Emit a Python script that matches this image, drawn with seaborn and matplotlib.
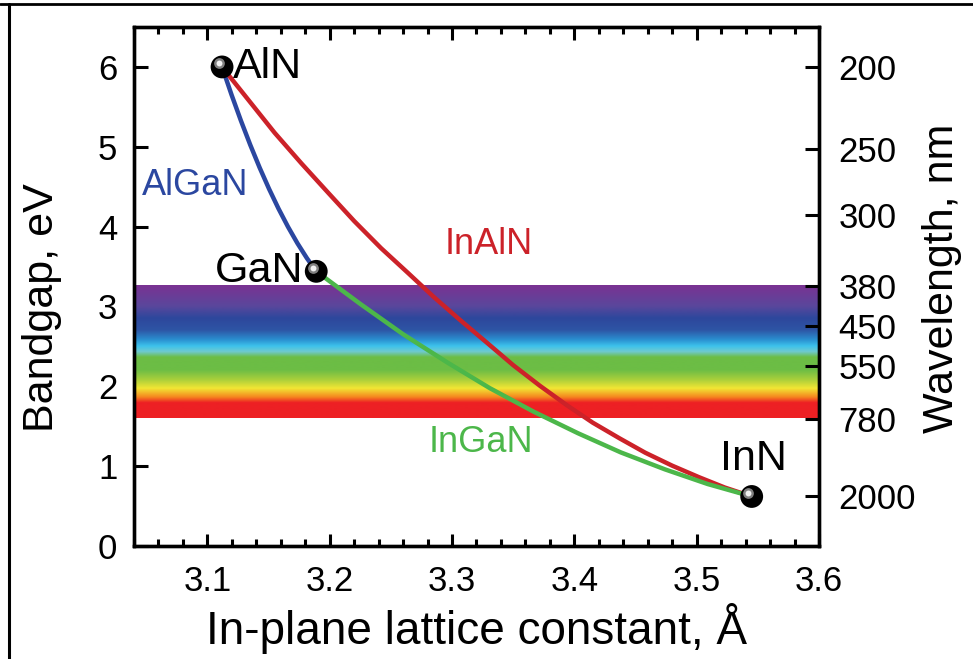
import numpy as np
import pandas as pd
import matplotlib
matplotlib.use("Agg")
import matplotlib.pyplot as plt
import matplotlib.transforms as mtransforms
from matplotlib.colors import LinearSegmentedColormap
from matplotlib.lines import Line2D
from matplotlib.ticker import MultipleLocator, FormatStrFormatter
import seaborn as sns

# binary end points: lattice constant (A) and bandgap (eV)
compounds = ["AlN", "GaN", "InN"]
lattice = [3.112, 3.189, 3.545]
gap = [6.0, 3.44, 0.62]

# alloy curves
algan_a = [3.112, 3.1197, 3.1274, 3.1351, 3.1428, 3.1505, 3.1582, 3.1659, 3.1736, 3.1813, 3.189]
algan_e = [6.0, 5.654, 5.328, 5.022, 4.736, 4.47, 4.224, 3.998, 3.792, 3.606, 3.44]
inaln_a = [3.112, 3.134, 3.155, 3.177, 3.199, 3.220, 3.242, 3.264, 3.285, 3.307, 3.329,
           3.350, 3.372, 3.394, 3.415, 3.437, 3.458, 3.480, 3.502, 3.523, 3.545]
inaln_e = [6.0, 5.578, 5.175, 4.790, 4.420, 4.070, 3.730, 3.420, 3.120, 2.825, 2.540,
           2.265, 2.005, 1.762, 1.545, 1.348, 1.168, 1.006, 0.861, 0.732, 0.62]
ingan_a = [3.189, 3.225, 3.260, 3.296, 3.331, 3.367, 3.403, 3.438, 3.474, 3.509, 3.545]
ingan_e = [3.44, 3.032, 2.652, 2.300, 1.976, 1.68, 1.412, 1.172, 0.960, 0.776, 0.62]

# right axis: wavelength labels and the energies they sit at
wl_labels = ["200", "250", "300", "380", "450", "550", "780", "2000"]
wl_energy = [6.0, 4.97, 4.14, 3.26, 2.76, 2.25, 1.59, 0.62]

# visible spectrum band (energy stops and colours)
band_lo, band_hi = 1.6, 3.26
spec_e = [1.60, 1.79, 1.86, 1.97, 2.08, 2.20, 2.36, 2.43, 2.50, 2.58, 2.70, 2.85, 3.00, 3.26]
spec_c = ["#ed2024", "#ed2024", "#f5861f", "#f2e634", "#a9cf3b", "#6cbd45", "#6cbd45",
          "#6fcad0", "#3cc2ec", "#2a8fd0", "#2e55a5", "#2d479c", "#5a479c", "#7a3292"]

blue, red, green = "#2b47a0", "#cc2229", "#4cb74a"

sns.set_style("ticks")
plt.rcParams["font.family"] = ["Liberation Sans", "DejaVu Sans"]
plt.rcParams["text.color"] = "black"
plt.rcParams["axes.labelcolor"] = "black"
plt.rcParams["xtick.color"] = "black"
plt.rcParams["ytick.color"] = "black"

fig = plt.figure(figsize=(9.73, 6.59), dpi=100)
ax = fig.add_axes([0.1377, 0.1715, 0.7040, 0.7875])

# spectrum band as an image
pos = [(e - band_lo) / (band_hi - band_lo) for e in spec_e]
cmap = LinearSegmentedColormap.from_list("spec", list(zip(pos, spec_c)))
grad = np.linspace(0, 1, 256).reshape(-1, 1)
ax.imshow(grad, cmap=cmap, origin="lower", aspect="auto",
          extent=[3.04, 3.6, band_lo, band_hi], zorder=1)

curves = pd.DataFrame({
    "a": algan_a + inaln_a + ingan_a,
    "E": algan_e + inaln_e + ingan_e,
    "alloy": ["AlGaN"] * len(algan_a) + ["InAlN"] * len(inaln_a) + ["InGaN"] * len(ingan_a),
})
sns.lineplot(data=curves, x="a", y="E", hue="alloy",
             palette={"AlGaN": blue, "InAlN": red, "InGaN": green},
             lw=3.2, legend=False, ax=ax, zorder=3)

# the binaries as shiny black balls
sns.scatterplot(x=lattice, y=gap, s=270, color="black", edgecolor="none", ax=ax, zorder=5)
shine = mtransforms.offset_copy(ax.transData, fig=fig, x=-2.5, y=2.5, units="points")
ax.scatter(lattice, gap, s=60, color="#808080", transform=shine, zorder=6, linewidths=0)
ax.scatter(lattice, gap, s=18, color="#f0f0f0", transform=shine, zorder=7, linewidths=0)

ax.annotate("AlN", (lattice[0], gap[0]), xytext=(8, 0), textcoords="offset points",
            ha="left", va="center", fontsize=31)
ax.annotate("GaN", (lattice[1], gap[1]), xytext=(-9, 0), textcoords="offset points",
            ha="right", va="center", fontsize=31)
ax.annotate("InN", (lattice[2], gap[2]), xytext=(1, 19), textcoords="offset points",
            ha="center", va="baseline", fontsize=31)

ax.text(3.0899, 4.51, "AlGaN", color=blue, fontsize=26, ha="center", va="center")
ax.text(3.330, 3.775, "InAlN", color=red, fontsize=26, ha="center", va="center")
ax.text(3.3237, 1.30, "InGaN", color=green, fontsize=26, ha="center", va="center")

ax.set_xlim(3.04, 3.6)
ax.set_ylim(0, 6.5)
ax.xaxis.set_major_locator(MultipleLocator(0.1))
ax.xaxis.set_minor_locator(MultipleLocator(0.02))
ax.xaxis.set_major_formatter(FormatStrFormatter("%.1f"))
ax.set_yticks(range(7))
ax.tick_params(axis="x", which="both", direction="in", top=True, width=2.2, labelsize=25, pad=14)
ax.tick_params(axis="x", which="major", length=9)
ax.tick_params(axis="x", which="minor", length=5)
ax.tick_params(axis="y", direction="in", right=False, length=10, width=2.2, labelsize=25, pad=12)

ax.set_xlabel("In-plane lattice constant, Å", fontsize=33, labelpad=3)
ax.set_ylabel("Bandgap, eV", fontsize=31)
ax.yaxis.set_label_coords(-0.105, 0.46)

ax2 = ax.twinx()
ax2.set_ylim(0, 6.5)
ax2.set_yticks(wl_energy)
ax2.set_yticklabels(wl_labels)
ax2.tick_params(axis="y", direction="in", length=10, width=2.2, labelsize=25, pad=14)
ax2.set_ylabel("Wavelength, nm", fontsize=31, rotation=90)
ax2.yaxis.set_label_coords(1.15, 0.515)

for a in (ax, ax2):
    for sp in a.spines.values():
        sp.set_linewidth(2.4)
        sp.set_color("black")

# frame lines along the top and left edge of the picture
fig.add_artist(Line2D([0, 1], [1 - 4 / 659, 1 - 4 / 659], transform=fig.transFigure, color="black", lw=2))
fig.add_artist(Line2D([9 / 973, 9 / 973], [0, 1 - 4 / 659], transform=fig.transFigure, color="black", lw=2.2))

fig.savefig("out.png", dpi=100)
